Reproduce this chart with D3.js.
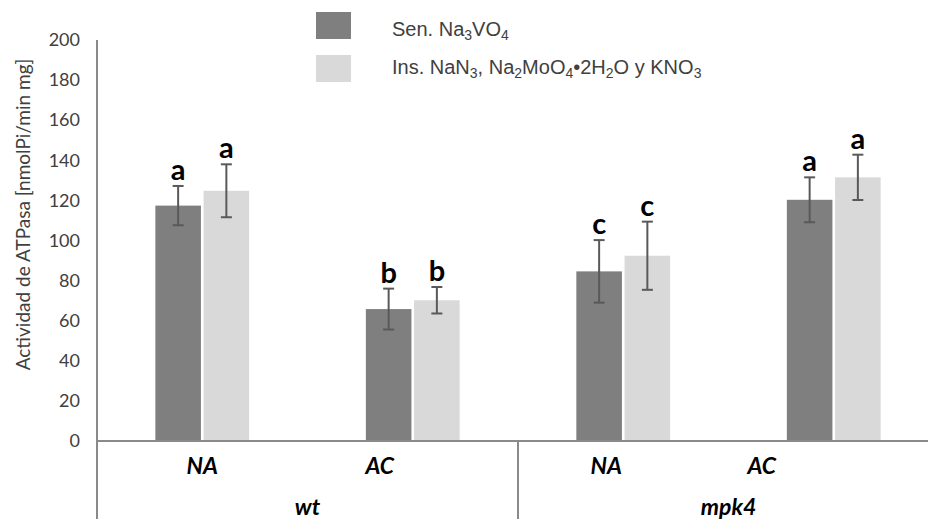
<!DOCTYPE html>
<html>
<head>
<meta charset="utf-8">
<script src="https://cdn.jsdelivr.net/npm/d3@7"></script>
<style>
  html, body { margin: 0; padding: 0; background: #fff; }
  svg { display: block; }
</style>
</head>
<body>
<svg id="chart" width="928" height="519"></svg>
<script>
// ATPase activity per genotype and treatment, two inhibitor series
const genotypes = ["wt", "mpk4"];
const treatments = ["NA", "AC"];
const categories = ["wt|NA", "wt|AC", "mpk4|NA", "mpk4|AC"];
const seriesNames = ["Sen. Na3VO4", "Ins. NaN3, Na2MoO4•2H2O y KNO3"];
const sensitiveMean = [117.4, 65.8, 84.6, 120.3];
const sensitiveErr = [9.8, 10.2, 15.6, 11.2];
const insensitiveMean = [124.8, 70.2, 92.4, 131.5];
const insensitiveErr = [13.2, 6.6, 17, 11.3];
const sensitiveLetters = ["a", "b", "c", "a"];
const insensitiveLetters = ["a", "b", "c", "a"];
const yTicks = [0, 20, 40, 60, 80, 100, 120, 140, 160, 180, 200];

const colors = ["#7f7f7f", "#d9d9d9"];
const uiFont = "Lato, 'Open Sans', sans-serif";

const svg = d3.select("#chart");
const plotLeft = 97, plotRight = 939, plotTop = 40, plotBase = 441;

const y = d3.scaleLinear().domain([0, 200]).range([plotBase, plotTop]);
const x = d3.scaleBand().domain(categories).range([plotLeft, plotRight]).padding(0);
const bw = x.bandwidth();
const half = bw * 0.2228;
const sub = d3.scaleBand().domain(seriesNames).range([bw / 2 - half, bw / 2 + half]).paddingInner(0.055);

const rows = categories.map((c, i) => ({
  cat: c,
  bars: [
    { s: seriesNames[0], v: sensitiveMean[i], e: sensitiveErr[i], l: sensitiveLetters[i], c: colors[0] },
    { s: seriesNames[1], v: insensitiveMean[i], e: insensitiveErr[i], l: insensitiveLetters[i], c: colors[1] }
  ]
}));

// bars
const g = svg.append("g");
const grp = g.selectAll("g.cat").data(rows).join("g")
  .attr("class", "cat")
  .attr("transform", d => `translate(${x(d.cat)},0)`);

grp.selectAll("rect").data(d => d.bars).join("rect")
  .attr("x", d => sub(d.s))
  .attr("width", sub.bandwidth())
  .attr("y", d => y(d.v))
  .attr("height", d => y(0) - y(d.v))
  .attr("fill", d => d.c);

// error bars
const cap = 5.5;
const cx = d => sub(d.s) + sub.bandwidth() / 2;
const eb = grp.selectAll("g.err").data(d => d.bars).join("g").attr("class", "err")
  .attr("stroke", "#595959").attr("stroke-width", 2);
eb.append("line")
  .attr("x1", cx).attr("x2", cx)
  .attr("y1", d => y(d.v + d.e)).attr("y2", d => y(d.v - d.e));
eb.append("line")
  .attr("x1", d => cx(d) - cap).attr("x2", d => cx(d) + cap)
  .attr("y1", d => y(d.v + d.e)).attr("y2", d => y(d.v + d.e));
eb.append("line")
  .attr("x1", d => cx(d) - cap).attr("x2", d => cx(d) + cap)
  .attr("y1", d => y(d.v - d.e)).attr("y2", d => y(d.v - d.e));

// significance letters
grp.selectAll("text.sig").data(d => d.bars).join("text")
  .attr("class", "sig")
  .attr("x", cx)
  .attr("y", d => y(d.v + d.e) - 6)
  .attr("text-anchor", "middle")
  .attr("font-family", uiFont)
  .attr("font-weight", "bold")
  .attr("font-size", 29)
  .attr("fill", "#000")
  .text(d => d.l);

// y axis
const yAxis = d3.axisLeft(y).tickValues(yTicks).tickSize(0).tickPadding(17);
const ya = svg.append("g").attr("transform", `translate(${plotLeft},0)`).call(yAxis);
ya.select(".domain").remove();
ya.selectAll("text")
  .attr("font-family", uiFont)
  .attr("font-size", 18)
  .attr("fill", "#404040");

const axisColor = "#8a8a8a";
svg.append("line").attr("x1", plotLeft).attr("x2", plotLeft).attr("y1", y(200)).attr("y2", 519)
  .attr("stroke", axisColor).attr("stroke-width", 2);
svg.append("line").attr("x1", plotLeft).attr("x2", 928).attr("y1", plotBase).attr("y2", plotBase)
  .attr("stroke", axisColor).attr("stroke-width", 2);
// divider between genotype groups
svg.append("line")
  .attr("x1", x("mpk4|NA")).attr("x2", x("mpk4|NA"))
  .attr("y1", plotBase).attr("y2", 519)
  .attr("stroke", axisColor).attr("stroke-width", 2);

// treatment labels
const labelShift = { "wt|NA": 0, "wt|AC": -33, "mpk4|NA": -17, "mpk4|AC": -72 };
svg.selectAll("text.trt").data(categories).join("text")
  .attr("class", "trt")
  .attr("x", c => x(c) + bw / 2 + labelShift[c])
  .attr("y", 474)
  .attr("text-anchor", "middle")
  .attr("font-family", uiFont)
  .attr("font-weight", "bold").attr("font-style", "italic")
  .attr("font-size", 23)
  .text(c => c.split("|")[1]);

// genotype labels
svg.selectAll("text.gen").data(genotypes).join("text")
  .attr("class", "gen")
  .attr("x", gname => (x(gname + "|" + treatments[0]) + x(gname + "|" + treatments[1]) + bw) / 2)
  .attr("y", 515)
  .attr("text-anchor", "middle")
  .attr("font-family", uiFont)
  .attr("font-weight", "bold").attr("font-style", "italic")
  .attr("font-size", 23)
  .text(d => d);

// y title
svg.append("text")
  .attr("transform", `translate(30,${(plotTop + plotBase) / 2 - 26}) rotate(-90)`)
  .attr("text-anchor", "middle")
  .attr("font-family", uiFont)
  .attr("font-size", 19)
  .attr("fill", "#404040")
  .text("Actividad de ATPasa [nmolPi/min mg]");

// legend
const legend = svg.append("g").attr("font-family", "'Liberation Sans', Arial, sans-serif")
  .attr("font-size", 20).attr("fill", "#404040");
const legendParts = [
  [["Sen. Na", 0], ["3", 1], ["VO", 0], ["4", 1]],
  [["Ins. NaN", 0], ["3", 1], [", Na", 0], ["2", 1], ["MoO", 0], ["4", 1], ["•2H", 0], ["2", 1], ["O y KNO", 0], ["3", 1]]
];
seriesNames.forEach((s, i) => {
  const sy = 12 + i * 43;
  legend.append("rect").attr("x", 316).attr("y", sy).attr("width", 35).attr("height", 27)
    .attr("fill", colors[i]);
  const t = legend.append("text").attr("x", 392).attr("y", 36 + i * 38);
  legendParts[i].forEach(([txt, isSub]) => {
    const ts = t.append("tspan").text(txt);
    if (isSub) ts.attr("font-size", 14).attr("dy", 4);
    else ts.attr("dy", t.selectAll("tspan").size() > 1 ? -4 : 0);
  });
});
</script>
</body>
</html>
